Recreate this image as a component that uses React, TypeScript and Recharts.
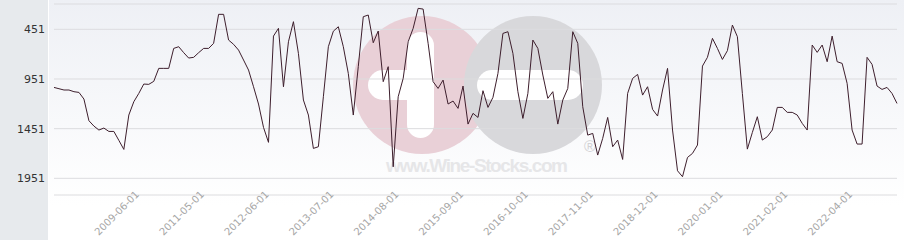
import React from 'react';
import {CartesianGrid, Line, LineChart, XAxis, YAxis} from 'recharts';

document.body.style.margin = '0';

const dates = [
    '2006-08-01', '2006-10-01', '2006-12-01', '2007-02-01', '2007-04-01', '2007-06-01', '2007-08-01',
    '2007-10-01', '2007-12-01', '2008-02-01', '2008-04-01', '2008-06-01', '2008-08-01', '2008-10-01',
    '2008-12-01', '2009-02-01', '2009-04-01', '2009-06-01', '2009-08-01', '2009-10-01', '2009-12-01',
    '2010-02-01', '2010-04-01', '2010-06-01', '2010-08-01', '2010-10-01', '2010-12-01',
    '2011-02-01', '2011-03-01', '2011-04-01', '2011-05-01', '2011-06-01', '2011-07-01', '2011-08-01',
    '2011-09-01', '2011-10-01', '2011-11-01', '2011-12-01',
    '2012-01-01', '2012-02-01', '2012-03-01', '2012-04-01', '2012-05-01', '2012-06-01',
    '2012-07-01', '2012-08-01', '2012-09-01', '2012-10-01', '2012-11-01', '2012-12-01',
    '2013-01-01', '2013-02-01', '2013-03-01', '2013-04-01', '2013-05-01', '2013-06-01',
    '2013-07-01', '2013-08-01', '2013-09-01', '2013-10-01', '2013-11-01', '2013-12-01',
    '2014-01-01', '2014-02-01', '2014-03-01', '2014-04-01', '2014-05-01', '2014-06-01',
    '2014-07-01', '2014-08-01', '2014-09-01', '2014-10-01', '2014-11-01', '2014-12-01',
    '2015-01-01', '2015-02-01', '2015-03-01', '2015-04-01', '2015-05-01', '2015-06-01',
    '2015-07-01', '2015-08-01', '2015-09-01', '2015-10-01', '2015-11-01', '2015-12-01',
    '2016-01-01', '2016-02-01', '2016-03-01', '2016-04-01', '2016-05-01', '2016-06-01',
    '2016-07-01', '2016-08-01', '2016-09-01', '2016-10-01', '2016-11-01', '2016-12-01',
    '2017-01-01', '2017-02-01', '2017-03-01', '2017-04-01', '2017-05-01', '2017-06-01',
    '2017-07-01', '2017-08-01', '2017-09-01', '2017-10-01', '2017-11-01', '2017-12-01',
    '2018-01-01', '2018-02-01', '2018-03-01', '2018-04-01', '2018-05-01', '2018-06-01',
    '2018-07-01', '2018-08-01', '2018-09-01', '2018-10-01', '2018-11-01', '2018-12-01',
    '2019-01-01', '2019-02-01', '2019-03-01', '2019-04-01', '2019-05-01', '2019-06-01',
    '2019-07-01', '2019-08-01', '2019-09-01', '2019-10-01', '2019-11-01', '2019-12-01',
    '2020-01-01', '2020-02-01', '2020-03-01', '2020-04-01', '2020-05-01', '2020-06-01',
    '2020-07-01', '2020-08-01', '2020-09-01', '2020-10-01', '2020-11-01', '2020-12-01',
    '2021-01-01', '2021-02-01', '2021-03-01', '2021-04-01', '2021-05-01', '2021-06-01',
    '2021-07-01', '2021-08-01', '2021-10-01', '2021-11-01', '2021-12-01',
    '2022-01-01', '2022-02-01', '2022-03-01', '2022-04-01', '2022-05-01', '2022-06-01',
    '2022-07-01', '2022-08-01', '2022-09-01', '2022-10-01', '2022-11-01', '2022-12-01',
    '2023-01-01',
];

// rank position (lower is better, so the axis is reversed)
const ranks = [
    1036, 1049, 1062, 1062, 1079, 1086, 1153, 1371, 1425, 1465, 1445, 1479, 1479, 1569, 1660, 1314,
    1180, 1096, 1002, 1005, 975, 844, 844, 844, 643, 626, 686, 740, 733, 686, 643, 643,
    592, 300, 300, 559, 602, 660, 760, 861, 1029, 1203, 1438, 1589, 519, 441, 1029, 576,
    374, 693, 1163, 1314, 1650, 1633, 1130, 626, 470, 425, 626, 895, 1314, 827, 324, 307,
    586, 468, 978, 827, 1835, 1130, 945, 576, 441, 240, 247, 592, 978, 1046, 962, 1203,
    1173, 1247, 1022, 1405, 1297, 1338, 1069, 1237, 1136, 895, 492, 475, 693, 1079, 1348, 1096,
    559, 643, 911, 1146, 1079, 1405, 1163, 1046, 475, 592, 1230, 1516, 1499, 1717, 1549, 1338,
    1633, 1566, 1761, 1096, 945, 905, 1113, 1029, 1257, 1324, 1062, 844, 1465, 1875, 1935, 1741,
    1700, 1616, 821, 733, 542, 643, 754, 666, 408, 525, 1096, 1657, 1490, 1331, 1566, 1532,
    1465, 1237, 1237, 1287, 1287, 1314, 1398, 1465, 609, 683, 609, 777, 519, 777, 794, 995,
    1465, 1606, 1606, 733, 804, 1022, 1056, 1036, 1096, 1197,
];

const xTicks = [
    '2009-06-01', '2011-05-01', '2012-06-01', '2013-07-01', '2014-08-01', '2015-09-01',
    '2016-10-01', '2017-11-01', '2018-12-01', '2020-01-01', '2021-02-01', '2022-04-01',
];
const yTicks = [451, 951, 1451, 1951];

const data = dates.map((date, i) => ({date, rank: ranks[i]}));

const W = 904;
const H = 240;

const DateTick = ({x, y, payload}: any) => {
    const ax = x + 1;
    const ay = y;
    return (
        <text
            x={ax}
            y={ay}
            transform={`rotate(-45, ${ax}, ${ay})`}
            textAnchor="end"
            fontSize={10}
            fontFamily="'DejaVu Sans', Verdana, sans-serif"
            fill="#a6a6a6"
        >
            {payload.value}
        </text>
    );
};

const Backdrop = () => (
    <svg width={W} height={H} style={{position: 'absolute', left: 0, top: 0}}>
        <defs>
            <linearGradient id="plotBg" x1="0" y1="0" x2="0" y2="1">
                <stop offset="0%" stopColor="#eef0f5"/>
                <stop offset="100%" stopColor="#ffffff"/>
            </linearGradient>
        </defs>
        <rect x={0} y={0} width={W} height={H} fill="#ffffff"/>
        <rect x={49} y={0} width={W - 49} height={205} fill="url(#plotBg)"/>
        <rect x={0} y={0} width={48} height={H} fill="#e7eaed"/>
        {/* watermark */}
        <circle cx={422} cy={85} r={69} fill="#e9d0d7"/>
        <rect x={407} y={32} width={27} height={106} rx={13.5} fill="#ffffff"/>
        <rect x={368} y={70} width={66} height={30} rx={15} fill="#ffffff"/>
        <circle cx={533} cy={85} r={69} fill="#d8d8db"/>
        <rect x={477} y={70} width={106} height={30} rx={15} fill="#ffffff"/>
        <text x={590} y={152} fontSize={16} fill="#d2d2d5" textAnchor="middle"
              fontFamily="'Liberation Sans', Arial, sans-serif">®</text>
        <text x={477} y={172} fontSize={19} fontWeight="bold" fill="#e6e6e8" textAnchor="middle"
              textLength={182} fontFamily="'Liberation Sans', Arial, sans-serif">www.Wine-Stocks.com</text>
    </svg>
);

export default function App() {
    return (
        <div style={{position: 'relative', width: W, height: H}}>
            <Backdrop/>
            <div style={{position: 'absolute', left: 0, top: 0}}>
                <LineChart width={W} height={H} data={data} margin={{top: 4, right: 7, bottom: 0, left: 0}}>
                    <CartesianGrid vertical={false} stroke="#dcdcdf"/>
                    <XAxis
                        dataKey="date"
                        ticks={xTicks}
                        interval={0}
                        height={45}
                        tickSize={0}
                        tickMargin={0}
                        axisLine={false}
                        tickLine={false}
                        tick={<DateTick/>}
                    />
                    <YAxis
                        type="number"
                        domain={[196, 2119]}
                        allowDataOverflow
                        reversed
                        ticks={yTicks}
                        interval={0}
                        width={54}
                        axisLine={false}
                        tickLine={false}
                        tickMargin={3}
                        tick={{fontSize: 11, fill: '#333333', fontFamily: "'DejaVu Sans', Verdana, sans-serif"}}
                    />
                    <Line
                        type="linear"
                        dataKey="rank"
                        stroke="#3d1e2c"
                        strokeWidth={1}
                        dot={false}
                        activeDot={false}
                        isAnimationActive={false}
                    />
                </LineChart>
            </div>
        </div>
    );
}
